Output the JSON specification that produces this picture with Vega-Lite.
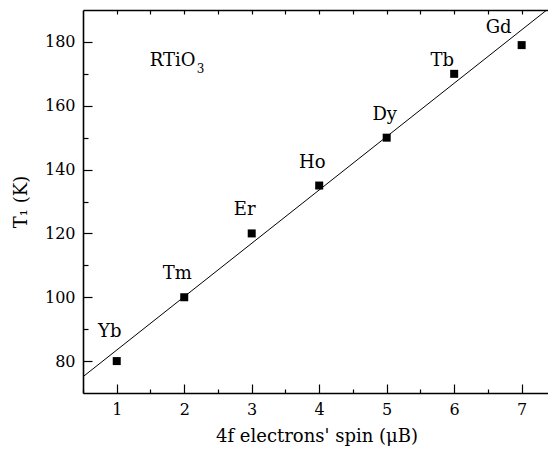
{
  "$schema": "https://vega.github.io/schema/vega-lite/v6.json",
  "width": 467,
  "height": 383,
  "autosize": "none",
  "padding": {"left": 83, "top": 10, "right": 0, "bottom": 66},
  "background": "white",
  "config": {
    "view": {"stroke": null},
    "font": "DejaVu Serif",
    "axis": {
      "grid": false,
      "labelFont": "DejaVu Serif",
      "titleFont": "DejaVu Serif",
      "labelColor": "black",
      "titleColor": "black",
      "domainColor": "black",
      "tickColor": "black",
      "labelFontSize": 16,
      "titleFontSize": 18,
      "titleFontWeight": "normal",
      "domainWidth": 1.6,
      "tickWidth": 1.2
    },
    "text": {"font": "DejaVu Serif", "color": "black"}
  },
  "datasets": {
    "pts": [
      {"ion": "Yb", "spin": 1, "T1": 80},
      {"ion": "Tm", "spin": 2, "T1": 100},
      {"ion": "Er", "spin": 3, "T1": 120},
      {"ion": "Ho", "spin": 4, "T1": 135},
      {"ion": "Dy", "spin": 5, "T1": 150},
      {"ion": "Tb", "spin": 6, "T1": 170},
      {"ion": "Gd", "spin": 7, "T1": 179}
    ],
    "fit": [
      {"spin": 0.5, "T1": 75.1},
      {"spin": 7.42, "T1": 190.8}
    ],
    "note": [
      {"spin": 1.49, "T1": 172.4}
    ]
  },
  "resolve": {"axis": {"x": "independent", "y": "independent"}},
  "layer": [
    {
      "data": {"name": "pts"},
      "mark": {"type": "square", "size": 64, "color": "black", "opacity": 1, "filled": true},
      "encoding": {
        "x": {
          "field": "spin", "type": "quantitative",
          "scale": {"domain": [0.5, 7.42], "nice": false, "zero": false},
          "axis": {"orient": "bottom", "values": [1, 2, 3, 4, 5, 6, 7], "tickSize": -9, "labelPadding": 17, "title": "4f electrons' spin (μB)", "titlePadding": 10}
        },
        "y": {
          "field": "T1", "type": "quantitative",
          "scale": {"domain": [70, 190], "nice": false, "zero": false},
          "axis": {"orient": "left", "values": [80, 100, 120, 140, 160, 180], "tickSize": -9, "labelPadding": 17, "title": "T₁ (K)", "titlePadding": 14}
        }
      }
    },
    {
      "data": {"name": "fit"},
      "mark": {"type": "line", "color": "black", "strokeWidth": 1, "clip": true},
      "encoding": {
        "x": {
          "field": "spin", "type": "quantitative",
          "axis": {"orient": "bottom", "values": [0.5, 1.5, 2.5, 3.5, 4.5, 5.5, 6.5], "tickSize": -4, "labels": false, "domain": false, "title": null}
        },
        "y": {
          "field": "T1", "type": "quantitative",
          "axis": {"orient": "left", "values": [90, 110, 130, 150, 170], "tickSize": -5, "labels": false, "domain": false, "title": null}
        }
      }
    },
    {
      "data": {"name": "pts"},
      "transform": [{"filter": {"field": "ion", "oneOf": ["Tm", "Er", "Ho"]}}],
      "mark": {"type": "text", "fontSize": 18, "dx": -7, "dy": -23},
      "encoding": {
        "x": {
          "field": "spin", "type": "quantitative",
          "axis": {"orient": "top", "values": [1, 1.5, 2, 2.5, 3, 3.5, 4, 4.5, 5, 5.5, 6, 6.5, 7], "tickSize": -4, "labels": false, "domain": true, "title": null}
        },
        "y": {"field": "T1", "type": "quantitative", "axis": null},
        "text": {"field": "ion"}
      }
    },
    {
      "data": {"name": "pts"},
      "transform": [{"filter": {"field": "ion", "equal": "Dy"}}],
      "mark": {"type": "text", "fontSize": 18, "dx": -2, "dy": -23},
      "encoding": {
        "x": {"field": "spin", "type": "quantitative", "axis": null},
        "y": {"field": "T1", "type": "quantitative", "axis": null},
        "text": {"field": "ion"}
      }
    },
    {
      "data": {"name": "pts"},
      "transform": [{"filter": {"field": "ion", "equal": "Yb"}}],
      "mark": {"type": "text", "fontSize": 18, "dx": -7, "dy": -29},
      "encoding": {
        "x": {"field": "spin", "type": "quantitative", "axis": null},
        "y": {"field": "T1", "type": "quantitative", "axis": null},
        "text": {"field": "ion"}
      }
    },
    {
      "data": {"name": "pts"},
      "transform": [{"filter": {"field": "ion", "equal": "Tb"}}],
      "mark": {"type": "text", "fontSize": 18, "dx": -12, "dy": -13},
      "encoding": {
        "x": {"field": "spin", "type": "quantitative", "axis": null},
        "y": {"field": "T1", "type": "quantitative", "axis": null},
        "text": {"field": "ion"}
      }
    },
    {
      "data": {"name": "pts"},
      "transform": [{"filter": {"field": "ion", "equal": "Gd"}}],
      "mark": {"type": "text", "fontSize": 18, "dx": -23, "dy": -17},
      "encoding": {
        "x": {"field": "spin", "type": "quantitative", "axis": null},
        "y": {"field": "T1", "type": "quantitative", "axis": null},
        "text": {"field": "ion"}
      }
    },
    {
      "data": {"name": "note"},
      "mark": {"type": "text", "fontSize": 18, "align": "left", "baseline": "alphabetic"},
      "encoding": {
        "x": {"field": "spin", "type": "quantitative", "axis": null},
        "y": {"field": "T1", "type": "quantitative", "axis": null},
        "text": {"value": "RTiO"}
      }
    },
    {
      "data": {"name": "note"},
      "mark": {"type": "text", "fontSize": 12, "align": "left", "baseline": "alphabetic", "dx": 47, "dy": 7},
      "encoding": {
        "x": {"field": "spin", "type": "quantitative", "axis": null},
        "y": {"field": "T1", "type": "quantitative", "axis": null},
        "text": {"value": "3"}
      }
    }
  ]
}
